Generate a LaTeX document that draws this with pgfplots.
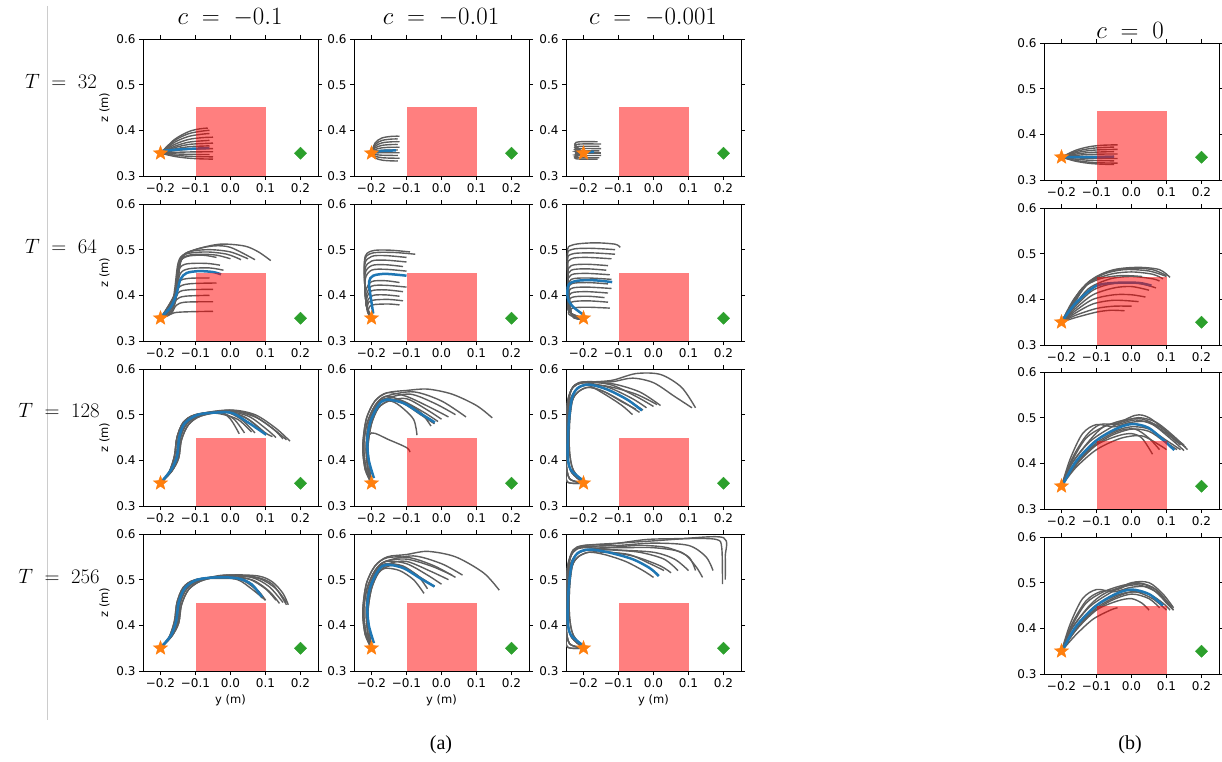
\documentclass[border=0pt]{standalone}
\usepackage{fontspec}
\setmainfont{Liberation Serif}
\newfontfamily\dejavu{DejaVu Sans}
\usepackage{pgfplots}
\pgfplotsset{compat=1.18}
\definecolor{tgray}{HTML}{5E5E5E}
\definecolor{cblue}{HTML}{1F77B4}
\definecolor{corange}{HTML}{FF7F0E}
\definecolor{cgreen}{HTML}{2CA02C}
\pgfdeclareplotmark{fstar}{%
  \pgfpathmoveto{\pgfpointpolar{90}{\pgfplotmarksize}}%
  \pgfpathlineto{\pgfpointpolar{126}{0.42\pgfplotmarksize}}%
  \pgfpathlineto{\pgfpointpolar{162}{\pgfplotmarksize}}%
  \pgfpathlineto{\pgfpointpolar{198}{0.42\pgfplotmarksize}}%
  \pgfpathlineto{\pgfpointpolar{234}{\pgfplotmarksize}}%
  \pgfpathlineto{\pgfpointpolar{270}{0.42\pgfplotmarksize}}%
  \pgfpathlineto{\pgfpointpolar{306}{\pgfplotmarksize}}%
  \pgfpathlineto{\pgfpointpolar{342}{0.42\pgfplotmarksize}}%
  \pgfpathlineto{\pgfpointpolar{18}{\pgfplotmarksize}}%
  \pgfpathlineto{\pgfpointpolar{54}{0.42\pgfplotmarksize}}%
  \pgfpathclose
  \pgfusepathqfillstroke}
\pgfplotsset{
  panel/.style={scale only axis, width=175pt, height=137pt, anchor=north west,
    xmin=-0.25, xmax=0.25, ymin=0.3, ymax=0.6,
    xtick={-0.2,-0.1,0,0.1,0.2}, xticklabels={−0.2,−0.1,0.0,0.1,0.2},
    ytick={0.3,0.4,0.5,0.6}, yticklabels={0.3,0.4,0.5,0.6},
    tick align=outside, major tick length=4pt,
    tick style={black,line width=0.8pt}, axis line style={black,line width=0.8pt},
    ticklabel style={font=\dejavu\fontsize{12}{14}\selectfont},
    label style={font=\dejavu\fontsize{11.5}{14}\selectfont}},
  traj/.style={tgray, line width=1.4pt, smooth, tension=0.5},
  mean/.style={cblue, line width=2.5pt, smooth, tension=0.5},
}
\newcommand{\decor}{%
  \addplot[draw=none, fill=red, fill opacity=0.5] coordinates {(-0.1,0.3)(0.1,0.3)(0.1,0.45)(-0.1,0.45)} -- cycle;
  \addplot[only marks, mark=fstar, mark size=7.5pt, color=corange] coordinates {(-0.2,0.35)};
  \addplot[only marks, mark=square*, mark size=4.3pt, mark options={rotate=45}, color=cgreen] coordinates {(0.2,0.35)};
}
\begin{document}
\begin{tikzpicture}
\useasboundingbox (0pt,0pt) rectangle (1222pt,-762pt);
\draw[black!20, line width=1pt] (47pt,-6pt) -- (47pt,-720pt);
% titles
\node at (230pt,-18pt) {\fontsize{23}{27}\selectfont $c\;=\;-0.1$};
\node at (441pt,-18pt) {\fontsize{23}{27}\selectfont $c\;=\;-0.01$};
\node at (653pt,-18pt) {\fontsize{23}{27}\selectfont $c\;=\;-0.001$};
\node at (1130pt,-30pt) {\fontsize{23}{27}\selectfont $c\;=\;0$};
\node at (61pt,-81pt) {\fontsize{22}{26}\selectfont $T\;=\;32$};
\node at (61pt,-246pt) {\fontsize{22}{26}\selectfont $T\;=\;64$};
\node at (59pt,-410pt) {\fontsize{22}{26}\selectfont $T\;=\;128$};
\node at (59pt,-576pt) {\fontsize{22}{26}\selectfont $T\;=\;256$};
\node at (441pt,-745pt) {\fontsize{20}{24}\selectfont (a)};
\node at (1130pt,-745pt) {\fontsize{20}{24}\selectfont (b)};

% ================= ROW 1 =================
\begin{axis}[panel, at={(143pt,-39pt)}, ylabel={z (m)}]
\addplot[traj] coordinates {(-0.2,0.35)(-0.16,0.380)(-0.12,0.397)(-0.09,0.403)(-0.065,0.405)};
\addplot[traj] coordinates {(-0.2,0.35)(-0.16,0.3775)(-0.12,0.3925)(-0.08,0.3985)(-0.06,0.400)};
\addplot[traj] coordinates {(-0.2,0.35)(-0.16,0.3737)(-0.12,0.3866)(-0.08,0.3917)(-0.06,0.393)};
\addplot[traj] coordinates {(-0.2,0.35)(-0.16,0.369)(-0.12,0.380)(-0.08,0.384)(-0.05,0.385)};
\addplot[traj] coordinates {(-0.2,0.35)(-0.16,0.365)(-0.12,0.374)(-0.08,0.377)(-0.06,0.378)};
\addplot[traj] coordinates {(-0.2,0.35)(-0.16,0.362)(-0.12,0.369)(-0.08,0.371)(-0.05,0.372)};
\addplot[traj] coordinates {(-0.2,0.35)(-0.16,0.359)(-0.12,0.364)(-0.08,0.3655)(-0.06,0.366)};
\addplot[traj] coordinates {(-0.2,0.35)(-0.16,0.3555)(-0.12,0.3585)(-0.08,0.3597)(-0.05,0.36)};
\addplot[traj] coordinates {(-0.2,0.35)(-0.16,0.3517)(-0.12,0.3526)(-0.08,0.353)(-0.05,0.353)};
\addplot[traj] coordinates {(-0.2,0.35)(-0.16,0.3484)(-0.12,0.3475)(-0.08,0.347)(-0.06,0.347)};
\addplot[traj] coordinates {(-0.2,0.35)(-0.16,0.3456)(-0.12,0.3432)(-0.08,0.3422)(-0.05,0.342)};
\addplot[traj] coordinates {(-0.2,0.35)(-0.16,0.3429)(-0.12,0.339)(-0.08,0.3374)(-0.05,0.337)};
\addplot[mean] coordinates {(-0.195,0.355)(-0.15,0.358)(-0.1,0.36)(-0.06,0.361)};
\decor
\end{axis}

\begin{axis}[panel, at={(354pt,-39pt)}]
\addplot[traj] coordinates {(-0.2,0.35)(-0.19,0.3722)(-0.17,0.3833)(-0.14,0.387)(-0.12,0.387)};
\addplot[traj] coordinates {(-0.2,0.35)(-0.19,0.3686)(-0.17,0.3779)(-0.14,0.381)(-0.125,0.381)};
\addplot[traj] coordinates {(-0.2,0.35)(-0.19,0.365)(-0.17,0.3725)(-0.14,0.375)(-0.12,0.375)};
\addplot[traj] coordinates {(-0.2,0.35)(-0.19,0.3614)(-0.17,0.3671)(-0.14,0.369)(-0.125,0.369)};
\addplot[traj] coordinates {(-0.2,0.35)(-0.19,0.3578)(-0.17,0.3617)(-0.14,0.363)(-0.12,0.363)};
\addplot[traj] coordinates {(-0.2,0.35)(-0.19,0.3542)(-0.17,0.3563)(-0.14,0.357)(-0.125,0.357)};
\addplot[traj] coordinates {(-0.2,0.35)(-0.19,0.3506)(-0.17,0.3509)(-0.14,0.351)(-0.12,0.351)};
\addplot[traj] coordinates {(-0.2,0.35)(-0.19,0.347)(-0.17,0.3455)(-0.14,0.345)(-0.125,0.345)};
\addplot[traj] coordinates {(-0.2,0.35)(-0.19,0.3434)(-0.17,0.3401)(-0.14,0.339)(-0.12,0.339)};
\addplot[traj] coordinates {(-0.2,0.35)(-0.19,0.3398)(-0.17,0.3347)(-0.14,0.333)(-0.125,0.333)};
\addplot[mean] coordinates {(-0.2,0.352)(-0.17,0.355)(-0.13,0.356)};
\decor
\end{axis}

\begin{axis}[panel, at={(566pt,-39pt)}]
\addplot[traj] coordinates {(-0.2,0.35)(-0.225,0.37)(-0.21,0.375)(-0.16,0.375)};
\addplot[traj] coordinates {(-0.2,0.35)(-0.225,0.366)(-0.21,0.37)(-0.15,0.37)};
\addplot[traj] coordinates {(-0.2,0.35)(-0.225,0.362)(-0.21,0.365)(-0.155,0.365)};
\addplot[traj] coordinates {(-0.2,0.35)(-0.225,0.358)(-0.21,0.36)(-0.15,0.36)};
\addplot[traj] coordinates {(-0.2,0.35)(-0.225,0.354)(-0.21,0.355)(-0.155,0.355)};
\addplot[traj] coordinates {(-0.2,0.35)(-0.225,0.35)(-0.21,0.35)(-0.15,0.35)};
\addplot[traj] coordinates {(-0.2,0.35)(-0.225,0.346)(-0.21,0.345)(-0.15,0.345)};
\addplot[traj] coordinates {(-0.2,0.35)(-0.225,0.342)(-0.21,0.34)(-0.155,0.34)};
\addplot[traj] coordinates {(-0.2,0.35)(-0.225,0.3396)(-0.21,0.337)(-0.16,0.337)};
\addplot[mean] coordinates {(-0.195,0.352)(-0.17,0.353)};
\decor
\end{axis}

\begin{axis}[panel, at={(1044pt,-43pt)}]
\addplot[traj] coordinates {(-0.2,0.35)(-0.16,0.3649)(-0.12,0.373)(-0.08,0.3762)(-0.04,0.377)};
\addplot[traj] coordinates {(-0.2,0.35)(-0.16,0.3621)(-0.12,0.3687)(-0.08,0.3713)(-0.05,0.372)};
\addplot[traj] coordinates {(-0.2,0.35)(-0.16,0.3594)(-0.12,0.3645)(-0.08,0.3665)(-0.04,0.367)};
\addplot[traj] coordinates {(-0.2,0.35)(-0.16,0.3566)(-0.12,0.3602)(-0.08,0.3616)(-0.05,0.362)};
\addplot[traj] coordinates {(-0.2,0.35)(-0.16,0.3539)(-0.12,0.356)(-0.08,0.3568)(-0.04,0.357)};
\addplot[traj] coordinates {(-0.2,0.35)(-0.16,0.3511)(-0.12,0.3517)(-0.08,0.3519)(-0.05,0.352)};
\addplot[traj] coordinates {(-0.2,0.35)(-0.16,0.3484)(-0.12,0.3475)(-0.08,0.3471)(-0.04,0.347)};
\addplot[traj] coordinates {(-0.2,0.35)(-0.16,0.3456)(-0.12,0.3432)(-0.08,0.3422)(-0.05,0.342)};
\addplot[traj] coordinates {(-0.2,0.35)(-0.16,0.3429)(-0.12,0.339)(-0.08,0.3374)(-0.04,0.337)};
\addplot[traj] coordinates {(-0.2,0.35)(-0.16,0.3412)(-0.12,0.3364)(-0.08,0.3345)(-0.05,0.334)};
\addplot[mean] coordinates {(-0.2,0.35)(-0.1,0.35)(-0.05,0.351)};
\decor
\end{axis}

% ================= ROW 2 =================
\begin{axis}[panel, at={(143pt,-204pt)}, ylabel={z (m)}]
\addplot[traj] coordinates {(-0.2,0.35)(-0.18,0.355)(-0.16,0.362)(-0.12,0.364)(-0.05,0.365)};
\addplot[traj] coordinates {(-0.2,0.35)(-0.17,0.36)(-0.155,0.378)(-0.13,0.385)(-0.05,0.386)};
\addplot[traj] coordinates {(-0.2,0.35)(-0.17,0.362)(-0.155,0.39)(-0.13,0.398)(-0.06,0.400)};
\addplot[traj] coordinates {(-0.2,0.35)(-0.165,0.37)(-0.15,0.405)(-0.12,0.412)(-0.05,0.413)};
\addplot[traj] coordinates {(-0.2,0.35)(-0.165,0.375)(-0.15,0.415)(-0.12,0.425)(-0.04,0.427)};
\addplot[traj] coordinates {(-0.2,0.35)(-0.16,0.38)(-0.148,0.428)(-0.12,0.437)(-0.06,0.438)};
\addplot[traj] coordinates {(-0.2,0.35)(-0.16,0.39)(-0.145,0.445)(-0.12,0.458)(-0.06,0.46)(-0.02,0.455)};
\addplot[traj] coordinates {(-0.2,0.35)(-0.16,0.385)(-0.15,0.45)(-0.13,0.468)(-0.07,0.47)(-0.03,0.466)};
\addplot[traj] coordinates {(-0.2,0.35)(-0.16,0.39)(-0.15,0.46)(-0.13,0.485)(-0.09,0.49)(-0.04,0.488)(0,0.48)};
\addplot[traj] coordinates {(-0.2,0.35)(-0.165,0.39)(-0.15,0.47)(-0.13,0.49)(-0.07,0.495)(-0.01,0.49)(0.03,0.478)};
\addplot[traj] coordinates {(-0.2,0.35)(-0.16,0.40)(-0.145,0.475)(-0.12,0.495)(-0.06,0.50)(0,0.495)(0.05,0.48)};
\addplot[traj] coordinates {(-0.2,0.35)(-0.16,0.40)(-0.14,0.48)(-0.11,0.498)(-0.05,0.508)(0,0.505)(0.07,0.478)};
\addplot[traj] coordinates {(-0.2,0.35)(-0.155,0.41)(-0.14,0.48)(-0.1,0.50)(-0.03,0.512)(0.04,0.508)(0.08,0.495)(0.115,0.476)};
\addplot[traj] coordinates {(-0.2,0.35)(-0.16,0.40)(-0.145,0.47)(-0.125,0.485)(-0.08,0.488)(-0.04,0.483)};
\addplot[mean] coordinates {(-0.195,0.355)(-0.17,0.375)(-0.155,0.401)(-0.143,0.435)(-0.125,0.449)(-0.09,0.453)(-0.05,0.451)(-0.027,0.446)};
\decor
\end{axis}

\begin{axis}[panel, at={(354pt,-204pt)}]
\addplot[traj] coordinates {(-0.2,0.35)(-0.21,0.362)(-0.205,0.376)(-0.19,0.38)(-0.15,0.381)(-0.12,0.379)};
\addplot[traj] coordinates {(-0.2,0.35)(-0.212,0.365)(-0.208,0.385)(-0.19,0.39)(-0.15,0.391)(-0.11,0.388)};
\addplot[traj] coordinates {(-0.2,0.35)(-0.212,0.37)(-0.21,0.39)(-0.195,0.40)(-0.16,0.401)(-0.12,0.398)};
\addplot[traj] coordinates {(-0.2,0.35)(-0.213,0.37)(-0.213,0.395)(-0.2,0.41)(-0.16,0.412)(-0.11,0.408)};
\addplot[traj] coordinates {(-0.2,0.35)(-0.214,0.375)(-0.215,0.40)(-0.2,0.42)(-0.16,0.422)(-0.1,0.418)};
\addplot[traj] coordinates {(-0.2,0.35)(-0.214,0.38)(-0.216,0.41)(-0.2,0.43)(-0.16,0.432)(-0.12,0.428)};
\addplot[traj] coordinates {(-0.2,0.35)(-0.215,0.38)(-0.218,0.435)(-0.2,0.455)(-0.16,0.457)(-0.1,0.453)};
\addplot[traj] coordinates {(-0.2,0.35)(-0.215,0.38)(-0.219,0.445)(-0.2,0.465)(-0.16,0.467)(-0.11,0.463)};
\addplot[traj] coordinates {(-0.2,0.35)(-0.215,0.38)(-0.219,0.455)(-0.2,0.475)(-0.16,0.477)(-0.1,0.473)};
\addplot[traj] coordinates {(-0.2,0.35)(-0.215,0.38)(-0.22,0.465)(-0.2,0.485)(-0.16,0.487)(-0.1,0.483)};
\addplot[traj] coordinates {(-0.2,0.35)(-0.215,0.38)(-0.22,0.472)(-0.2,0.492)(-0.14,0.494)(-0.075,0.49)};
\addplot[traj] coordinates {(-0.2,0.35)(-0.215,0.38)(-0.22,0.477)(-0.2,0.497)(-0.15,0.499)(-0.09,0.495)};
\addplot[mean] coordinates {(-0.195,0.36)(-0.203,0.40)(-0.207,0.43)(-0.195,0.443)(-0.16,0.447)(-0.1,0.443)};
\decor
\end{axis}

\begin{axis}[panel, at={(566pt,-204pt)}]
\addplot[traj] coordinates {(-0.2,0.35)(-0.235,0.355)(-0.243,0.362)(-0.232,0.372)(-0.19,0.374)(-0.125,0.372)};
\addplot[traj] coordinates {(-0.2,0.35)(-0.235,0.36)(-0.245,0.37)(-0.235,0.385)(-0.19,0.388)(-0.13,0.385)};
\addplot[traj] coordinates {(-0.2,0.35)(-0.235,0.36)(-0.245,0.375)(-0.235,0.395)(-0.19,0.398)(-0.14,0.395)};
\addplot[traj] coordinates {(-0.2,0.35)(-0.235,0.36)(-0.245,0.385)(-0.235,0.405)(-0.19,0.408)(-0.13,0.405)};
\addplot[traj] coordinates {(-0.2,0.35)(-0.235,0.36)(-0.245,0.395)(-0.235,0.415)(-0.19,0.418)(-0.12,0.415)};
\addplot[traj] coordinates {(-0.2,0.35)(-0.235,0.36)(-0.245,0.405)(-0.235,0.425)(-0.19,0.428)(-0.13,0.425)};
\addplot[traj] coordinates {(-0.2,0.35)(-0.235,0.36)(-0.245,0.415)(-0.235,0.435)(-0.19,0.438)(-0.12,0.435)};
\addplot[traj] coordinates {(-0.2,0.35)(-0.235,0.36)(-0.245,0.425)(-0.235,0.445)(-0.19,0.448)(-0.125,0.445)};
\addplot[traj] coordinates {(-0.2,0.35)(-0.235,0.36)(-0.245,0.435)(-0.235,0.455)(-0.19,0.458)(-0.135,0.455)};
\addplot[traj] coordinates {(-0.2,0.35)(-0.235,0.36)(-0.245,0.445)(-0.235,0.465)(-0.19,0.468)(-0.13,0.465)};
\addplot[traj] coordinates {(-0.2,0.35)(-0.235,0.36)(-0.246,0.46)(-0.235,0.48)(-0.19,0.483)(-0.12,0.48)};
\addplot[traj] coordinates {(-0.2,0.35)(-0.235,0.36)(-0.246,0.47)(-0.235,0.49)(-0.18,0.493)(-0.11,0.49)};
\addplot[traj] coordinates {(-0.2,0.35)(-0.235,0.36)(-0.246,0.48)(-0.235,0.50)(-0.18,0.503)(-0.11,0.50)};
\addplot[traj] coordinates {(-0.2,0.35)(-0.235,0.36)(-0.246,0.49)(-0.232,0.51)(-0.17,0.515)(-0.11,0.512)(-0.095,0.505)};
\addplot[mean] coordinates {(-0.203,0.359)(-0.23,0.375)(-0.245,0.394)(-0.243,0.423)(-0.217,0.432)(-0.17,0.433)(-0.118,0.429)};
\decor
\end{axis}

\begin{axis}[panel, at={(1044pt,-208pt)}]
\addplot[traj] coordinates {(-0.2,0.35)(-0.16,0.40)(-0.11,0.445)(-0.05,0.465)(0.02,0.47)(0.08,0.465)(0.11,0.448)};
\addplot[traj] coordinates {(-0.2,0.35)(-0.16,0.405)(-0.12,0.44)(-0.06,0.462)(0,0.468)(0.06,0.465)(0.1,0.452)};
\addplot[traj] coordinates {(-0.2,0.35)(-0.165,0.40)(-0.12,0.437)(-0.06,0.455)(0,0.46)(0.06,0.455)(0.09,0.445)};
\addplot[traj] coordinates {(-0.2,0.35)(-0.16,0.39)(-0.12,0.425)(-0.06,0.445)(0,0.45)(0.06,0.445)(0.08,0.44)};
\addplot[traj] coordinates {(-0.2,0.35)(-0.16,0.385)(-0.11,0.42)(-0.05,0.435)(0.02,0.435)(0.07,0.425)};
\addplot[traj] coordinates {(-0.2,0.35)(-0.16,0.38)(-0.11,0.41)(-0.05,0.425)(0,0.428)(0.05,0.42)};
\addplot[traj] coordinates {(-0.2,0.35)(-0.16,0.375)(-0.11,0.40)(-0.05,0.41)(0,0.41)(0.04,0.405)};
\addplot[traj] coordinates {(-0.2,0.35)(-0.16,0.37)(-0.11,0.39)(-0.05,0.398)(0.02,0.395)};
\addplot[traj] coordinates {(-0.2,0.35)(-0.16,0.365)(-0.1,0.38)(-0.05,0.385)(0,0.385)};
\addplot[traj] coordinates {(-0.2,0.35)(-0.16,0.36)(-0.1,0.372)(-0.06,0.376)(-0.02,0.375)};
\addplot[traj] coordinates {(-0.2,0.35)(-0.165,0.39)(-0.13,0.43)(-0.08,0.455)(-0.02,0.465)(0.05,0.462)(0.1,0.45)};
\addplot[traj] coordinates {(-0.2,0.35)(-0.17,0.39)(-0.14,0.425)(-0.09,0.445)(-0.03,0.452)(0.03,0.45)};
\addplot[mean] coordinates {(-0.195,0.356)(-0.158,0.393)(-0.102,0.429)(-0.046,0.436)(0.02,0.436)(0.057,0.43)};
\decor
\end{axis}

% ================= ROW 3 =================
\begin{axis}[panel, at={(143pt,-369pt)}, ylabel={z (m)}]
\addplot[traj] coordinates {(-0.2,0.35)(-0.175,0.375)(-0.16,0.41)(-0.153,0.45)(-0.135,0.483)(-0.1,0.5)(-0.03,0.505)(0,0.49)(0.025,0.458)};
\addplot[traj] coordinates {(-0.2,0.35)(-0.17,0.378)(-0.155,0.41)(-0.148,0.45)(-0.13,0.482)(-0.095,0.5)(-0.03,0.505)(0.01,0.49)(0.04,0.46)};
\addplot[traj] coordinates {(-0.2,0.35)(-0.165,0.38)(-0.15,0.41)(-0.143,0.45)(-0.125,0.48)(-0.09,0.498)(-0.02,0.507)(0.03,0.49)(0.07,0.46)};
\addplot[traj] coordinates {(-0.2,0.35)(-0.168,0.376)(-0.148,0.405)(-0.14,0.445)(-0.12,0.478)(-0.085,0.497)(-0.02,0.507)(0.04,0.495)(0.09,0.465)};
\addplot[traj] coordinates {(-0.2,0.35)(-0.175,0.375)(-0.16,0.41)(-0.153,0.45)(-0.135,0.483)(-0.1,0.5)(-0.02,0.508)(0.05,0.497)(0.1,0.47)(0.13,0.45)};
\addplot[traj] coordinates {(-0.2,0.35)(-0.17,0.378)(-0.155,0.41)(-0.148,0.45)(-0.13,0.482)(-0.095,0.5)(-0.01,0.51)(0.06,0.5)(0.12,0.47)(0.15,0.447)};
\addplot[traj] coordinates {(-0.2,0.35)(-0.165,0.38)(-0.15,0.41)(-0.143,0.45)(-0.125,0.48)(-0.09,0.498)(0,0.51)(0.07,0.5)(0.13,0.47)(0.17,0.442)};
\addplot[traj] coordinates {(-0.2,0.35)(-0.168,0.376)(-0.148,0.405)(-0.14,0.445)(-0.12,0.478)(-0.085,0.497)(0,0.508)(0.07,0.495)(0.12,0.47)(0.16,0.445)};
\addplot[traj] coordinates {(-0.2,0.35)(-0.175,0.375)(-0.16,0.41)(-0.153,0.45)(-0.135,0.483)(-0.1,0.5)(-0.01,0.506)(0.05,0.49)(0.1,0.46)(0.12,0.452)};
\addplot[traj] coordinates {(-0.2,0.35)(-0.165,0.38)(-0.15,0.41)(-0.143,0.45)(-0.125,0.48)(-0.09,0.498)(-0.04,0.503)(0.02,0.49)(0.06,0.462)};
\addplot[mean] coordinates {(-0.193,0.357)(-0.17,0.379)(-0.153,0.408)(-0.146,0.452)(-0.131,0.481)(-0.093,0.5)(-0.031,0.505)(0.007,0.503)(0.054,0.481)(0.102,0.456)};
\decor
\end{axis}

\begin{axis}[panel, at={(354pt,-369pt)}]
\addplot[traj] coordinates {(-0.2,0.35)(-0.21,0.38)(-0.215,0.43)(-0.208,0.48)(-0.185,0.52)(-0.16,0.535)(-0.11,0.525)(-0.06,0.5)(-0.02,0.48)};
\addplot[traj] coordinates {(-0.2,0.35)(-0.215,0.38)(-0.222,0.43)(-0.213,0.48)(-0.19,0.52)(-0.16,0.54)(-0.11,0.53)(-0.05,0.505)(-0.01,0.485)};
\addplot[traj] coordinates {(-0.2,0.35)(-0.205,0.38)(-0.21,0.43)(-0.2,0.48)(-0.18,0.515)(-0.15,0.53)(-0.1,0.535)(-0.04,0.51)(0,0.49)};
\addplot[traj] coordinates {(-0.2,0.35)(-0.218,0.38)(-0.225,0.43)(-0.215,0.49)(-0.19,0.53)(-0.155,0.548)(-0.1,0.54)(-0.03,0.515)(0.02,0.495)};
\addplot[traj] coordinates {(-0.2,0.35)(-0.21,0.38)(-0.215,0.43)(-0.208,0.48)(-0.185,0.52)(-0.16,0.535)(-0.09,0.545)(-0.02,0.525)(0.04,0.5)};
\addplot[traj] coordinates {(-0.2,0.35)(-0.215,0.38)(-0.222,0.43)(-0.213,0.48)(-0.19,0.52)(-0.16,0.54)(-0.08,0.55)(0,0.53)(0.07,0.495)};
\addplot[traj] coordinates {(-0.2,0.35)(-0.218,0.38)(-0.225,0.43)(-0.215,0.49)(-0.19,0.53)(-0.155,0.548)(-0.1,0.553)(-0.04,0.556)(0.03,0.545)(0.1,0.52)(0.145,0.493)};
\addplot[traj] coordinates {(-0.2,0.35)(-0.205,0.38)(-0.21,0.43)(-0.2,0.48)(-0.18,0.515)(-0.15,0.53)(-0.12,0.52)(-0.08,0.49)(-0.07,0.455)};
\addplot[traj] coordinates {(-0.2,0.35)(-0.21,0.38)(-0.215,0.43)(-0.208,0.48)(-0.185,0.52)(-0.16,0.535)(-0.11,0.528)(-0.06,0.505)(-0.03,0.475)};
\addplot[traj] coordinates {(-0.2,0.35)(-0.21,0.38)(-0.215,0.43)(-0.2,0.46)(-0.15,0.445)(-0.1,0.428)(-0.09,0.418)};
\addplot[mean] coordinates {(-0.193,0.361)(-0.208,0.401)(-0.212,0.445)(-0.203,0.485)(-0.179,0.522)(-0.156,0.533)(-0.108,0.525)(-0.061,0.503)(-0.019,0.483)};
\decor
\end{axis}

\begin{axis}[panel, at={(566pt,-369pt)}]
\addplot[traj] coordinates {(-0.2,0.35)(-0.23,0.38)(-0.24,0.42)(-0.24,0.48)(-0.232,0.53)(-0.215,0.55)(-0.185,0.56)(-0.14,0.55)(-0.08,0.525)(-0.04,0.505)};
\addplot[traj] coordinates {(-0.2,0.35)(-0.235,0.375)(-0.245,0.41)(-0.245,0.47)(-0.238,0.53)(-0.22,0.555)(-0.19,0.565)(-0.13,0.555)(-0.07,0.53)(-0.03,0.51)};
\addplot[traj] coordinates {(-0.2,0.35)(-0.24,0.36)(-0.25,0.40)(-0.25,0.47)(-0.245,0.53)(-0.23,0.56)(-0.2,0.57)(-0.13,0.56)(-0.06,0.535)(-0.02,0.515)};
\addplot[traj] coordinates {(-0.2,0.35)(-0.245,0.352)(-0.25,0.38)(-0.248,0.46)(-0.24,0.54)(-0.225,0.565)(-0.195,0.572)(-0.12,0.565)(-0.05,0.54)(0,0.518)};
\addplot[traj] coordinates {(-0.2,0.35)(-0.24,0.36)(-0.25,0.40)(-0.25,0.47)(-0.245,0.53)(-0.23,0.56)(-0.2,0.57)(-0.12,0.568)(-0.04,0.55)(0.02,0.52)};
\addplot[traj] coordinates {(-0.2,0.35)(-0.245,0.352)(-0.25,0.38)(-0.248,0.46)(-0.24,0.54)(-0.225,0.565)(-0.195,0.572)(-0.12,0.572)(-0.06,0.58)(0,0.57)(0.06,0.54)(0.11,0.515)};
\addplot[traj] coordinates {(-0.2,0.35)(-0.24,0.36)(-0.25,0.40)(-0.25,0.47)(-0.245,0.53)(-0.23,0.56)(-0.2,0.57)(-0.12,0.575)(-0.05,0.59)(0.02,0.588)(0.08,0.56)(0.12,0.515)};
\addplot[traj] coordinates {(-0.2,0.35)(-0.235,0.375)(-0.245,0.41)(-0.245,0.47)(-0.238,0.53)(-0.22,0.555)(-0.19,0.565)(-0.14,0.545)(-0.09,0.52)(-0.06,0.5)};
\addplot[traj] coordinates {(-0.2,0.35)(-0.23,0.38)(-0.24,0.42)(-0.24,0.48)(-0.232,0.53)(-0.215,0.55)(-0.185,0.56)(-0.14,0.55)(-0.09,0.528)(-0.05,0.512)};
\addplot[traj] coordinates {(-0.2,0.35)(-0.235,0.375)(-0.245,0.41)(-0.245,0.47)(-0.238,0.53)(-0.22,0.555)(-0.19,0.565)(-0.13,0.562)(-0.05,0.545)(0.01,0.522)};
\addplot[mean] coordinates {(-0.203,0.357)(-0.236,0.379)(-0.245,0.408)(-0.243,0.474)(-0.234,0.533)(-0.217,0.558)(-0.184,0.566)(-0.132,0.555)(-0.075,0.533)(-0.033,0.509)};
\decor
\end{axis}

\begin{axis}[panel, at={(1044pt,-372pt)}]
\addplot[traj] coordinates {(-0.2,0.35)(-0.17,0.4)(-0.12,0.45)(-0.08,0.48)(-0.03,0.49)(0.02,0.5)(0.07,0.49)(0.12,0.46)(0.16,0.43)};
\addplot[traj] coordinates {(-0.2,0.35)(-0.17,0.41)(-0.13,0.46)(-0.09,0.485)(-0.04,0.485)(0.01,0.495)(0.06,0.485)(0.11,0.455)(0.15,0.428)};
\addplot[traj] coordinates {(-0.2,0.35)(-0.16,0.4)(-0.11,0.445)(-0.05,0.47)(0,0.48)(0.05,0.475)(0.1,0.45)(0.14,0.43)};
\addplot[traj] coordinates {(-0.2,0.35)(-0.165,0.39)(-0.12,0.43)(-0.06,0.46)(0,0.475)(0.05,0.47)(0.09,0.45)(0.13,0.43)};
\addplot[traj] coordinates {(-0.2,0.35)(-0.17,0.4)(-0.12,0.447)(-0.06,0.478)(0.01,0.505)(0.05,0.5)(0.1,0.47)(0.15,0.44)};
\addplot[traj] coordinates {(-0.2,0.35)(-0.16,0.395)(-0.1,0.44)(-0.04,0.46)(0,0.465)(0.03,0.455)(0.06,0.42)};
\addplot[traj] coordinates {(-0.2,0.35)(-0.16,0.4)(-0.1,0.445)(-0.04,0.47)(0.01,0.475)(0.05,0.455)(0.08,0.43)};
\addplot[traj] coordinates {(-0.2,0.35)(-0.17,0.405)(-0.13,0.455)(-0.08,0.48)(-0.02,0.495)(0.03,0.497)(0.08,0.48)(0.12,0.455)(0.155,0.435)};
\addplot[traj] coordinates {(-0.2,0.35)(-0.16,0.39)(-0.1,0.43)(-0.03,0.455)(0.03,0.46)(0.08,0.44)(0.1,0.43)};
\addplot[traj] coordinates {(-0.2,0.35)(-0.175,0.41)(-0.14,0.465)(-0.1,0.485)(-0.05,0.48)(0,0.49)(0.05,0.49)(0.1,0.465)(0.14,0.44)};
\addplot[mean] coordinates {(-0.195,0.355)(-0.158,0.405)(-0.102,0.449)(-0.046,0.475)(0.001,0.486)(0.048,0.478)(0.094,0.449)(0.122,0.429)};
\decor
\end{axis}

% ================= ROW 4 =================
\begin{axis}[panel, at={(143pt,-534pt)}, ylabel={z (m)}, xlabel={y (m)}]
\addplot[traj] coordinates {(-0.2,0.35)(-0.175,0.375)(-0.16,0.41)(-0.153,0.45)(-0.135,0.483)(-0.1,0.5)(-0.03,0.505)(0.04,0.5)(0.08,0.475)(0.1,0.455)};
\addplot[traj] coordinates {(-0.2,0.35)(-0.17,0.378)(-0.155,0.41)(-0.148,0.45)(-0.13,0.482)(-0.095,0.5)(-0.02,0.507)(0.05,0.502)(0.1,0.48)(0.13,0.455)};
\addplot[traj] coordinates {(-0.2,0.35)(-0.165,0.38)(-0.15,0.41)(-0.143,0.45)(-0.125,0.48)(-0.09,0.498)(-0.02,0.51)(0.06,0.505)(0.11,0.485)(0.15,0.45)};
\addplot[traj] coordinates {(-0.2,0.35)(-0.168,0.376)(-0.148,0.405)(-0.14,0.445)(-0.12,0.478)(-0.085,0.497)(-0.01,0.51)(0.07,0.506)(0.12,0.49)(0.16,0.445)};
\addplot[traj] coordinates {(-0.2,0.35)(-0.175,0.375)(-0.16,0.41)(-0.153,0.45)(-0.135,0.483)(-0.1,0.5)(0,0.508)(0.08,0.503)(0.13,0.48)(0.16,0.45)};
\addplot[traj] coordinates {(-0.2,0.35)(-0.17,0.378)(-0.155,0.41)(-0.148,0.45)(-0.13,0.482)(-0.095,0.5)(-0.03,0.503)(0.03,0.5)(0.07,0.48)(0.09,0.46)};
\addplot[traj] coordinates {(-0.2,0.35)(-0.165,0.38)(-0.15,0.41)(-0.143,0.45)(-0.125,0.48)(-0.09,0.498)(-0.02,0.506)(0.06,0.5)(0.11,0.475)(0.14,0.448)};
\addplot[traj] coordinates {(-0.2,0.35)(-0.168,0.376)(-0.148,0.405)(-0.14,0.445)(-0.12,0.478)(-0.085,0.497)(-0.04,0.505)(0.02,0.5)(0.06,0.48)(0.1,0.455)};
\addplot[traj] coordinates {(-0.2,0.35)(-0.17,0.378)(-0.155,0.41)(-0.148,0.45)(-0.13,0.482)(-0.095,0.5)(0,0.51)(0.08,0.508)(0.12,0.495)(0.15,0.47)(0.165,0.445)};
\addplot[mean] coordinates {(-0.193,0.357)(-0.17,0.378)(-0.155,0.41)(-0.148,0.45)(-0.13,0.482)(-0.095,0.5)(-0.04,0.505)(0.02,0.503)(0.06,0.49)(0.09,0.462)};
\decor
\end{axis}

\begin{axis}[panel, at={(354pt,-534pt)}, xlabel={y (m)}]
\addplot[traj] coordinates {(-0.2,0.35)(-0.21,0.38)(-0.215,0.43)(-0.208,0.48)(-0.185,0.52)(-0.16,0.535)(-0.11,0.53)(-0.06,0.505)(-0.02,0.485)};
\addplot[traj] coordinates {(-0.2,0.35)(-0.215,0.38)(-0.222,0.43)(-0.213,0.48)(-0.19,0.52)(-0.16,0.54)(-0.1,0.535)(-0.04,0.51)(0,0.49)};
\addplot[traj] coordinates {(-0.2,0.35)(-0.205,0.38)(-0.21,0.43)(-0.2,0.48)(-0.18,0.515)(-0.15,0.535)(-0.1,0.54)(-0.03,0.518)(0.02,0.5)};
\addplot[traj] coordinates {(-0.2,0.35)(-0.218,0.38)(-0.225,0.43)(-0.215,0.49)(-0.19,0.53)(-0.155,0.548)(-0.09,0.548)(-0.02,0.53)(0.04,0.505)};
\addplot[traj] coordinates {(-0.2,0.35)(-0.21,0.38)(-0.215,0.43)(-0.208,0.48)(-0.185,0.52)(-0.16,0.54)(-0.08,0.552)(0,0.535)(0.06,0.51)};
\addplot[traj] coordinates {(-0.2,0.35)(-0.218,0.38)(-0.225,0.43)(-0.215,0.49)(-0.19,0.53)(-0.155,0.55)(-0.1,0.555)(-0.04,0.562)(0.04,0.55)(0.12,0.515)(0.165,0.477)};
\addplot[traj] coordinates {(-0.2,0.35)(-0.205,0.38)(-0.21,0.43)(-0.2,0.48)(-0.18,0.515)(-0.15,0.53)(-0.12,0.53)(-0.07,0.51)(-0.04,0.48)};
\addplot[traj] coordinates {(-0.2,0.35)(-0.215,0.38)(-0.222,0.43)(-0.213,0.48)(-0.19,0.52)(-0.16,0.54)(-0.1,0.545)(-0.03,0.53)(0.03,0.51)};
\addplot[traj] coordinates {(-0.2,0.35)(-0.21,0.38)(-0.215,0.43)(-0.208,0.48)(-0.185,0.515)(-0.16,0.525)(-0.12,0.52)(-0.08,0.5)(-0.05,0.47)};
\addplot[mean] coordinates {(-0.193,0.361)(-0.208,0.401)(-0.212,0.445)(-0.203,0.485)(-0.179,0.522)(-0.156,0.533)(-0.108,0.525)(-0.061,0.503)(-0.02,0.485)};
\decor
\end{axis}

\begin{axis}[panel, at={(566pt,-534pt)}, xlabel={y (m)}]
\addplot[traj] coordinates {(-0.2,0.35)(-0.23,0.38)(-0.24,0.42)(-0.24,0.48)(-0.232,0.53)(-0.215,0.55)(-0.185,0.56)(-0.14,0.555)(-0.08,0.54)(-0.03,0.52)(0,0.505)};
\addplot[traj] coordinates {(-0.2,0.35)(-0.235,0.375)(-0.245,0.41)(-0.245,0.47)(-0.238,0.53)(-0.22,0.555)(-0.19,0.565)(-0.12,0.56)(-0.05,0.55)(0.02,0.53)(0.05,0.515)};
\addplot[traj] coordinates {(-0.2,0.35)(-0.24,0.36)(-0.25,0.40)(-0.25,0.47)(-0.245,0.53)(-0.23,0.56)(-0.2,0.57)(-0.1,0.565)(0,0.56)(0.06,0.545)(0.1,0.52)};
\addplot[traj] coordinates {(-0.2,0.35)(-0.245,0.352)(-0.25,0.38)(-0.248,0.46)(-0.24,0.54)(-0.225,0.565)(-0.195,0.572)(-0.1,0.57)(0,0.57)(0.08,0.56)(0.12,0.53)(0.14,0.505)};
\addplot[traj] coordinates {(-0.2,0.35)(-0.24,0.36)(-0.25,0.40)(-0.25,0.47)(-0.245,0.53)(-0.23,0.56)(-0.2,0.572)(-0.1,0.575)(0,0.58)(0.1,0.575)(0.15,0.55)(0.17,0.52)};
\addplot[traj] coordinates {(-0.2,0.35)(-0.245,0.352)(-0.25,0.38)(-0.248,0.46)(-0.24,0.54)(-0.225,0.565)(-0.195,0.575)(-0.1,0.58)(0,0.585)(0.1,0.59)(0.18,0.588)(0.195,0.57)(0.197,0.49)};
\addplot[traj] coordinates {(-0.2,0.35)(-0.24,0.36)(-0.25,0.40)(-0.25,0.47)(-0.245,0.53)(-0.23,0.565)(-0.2,0.575)(-0.12,0.578)(-0.02,0.588)(0.08,0.59)(0.2,0.592)(0.205,0.55)(0.205,0.5)};
\addplot[traj] coordinates {(-0.2,0.35)(-0.235,0.375)(-0.245,0.41)(-0.245,0.47)(-0.238,0.53)(-0.22,0.555)(-0.19,0.565)(-0.13,0.57)(-0.04,0.575)(0.04,0.57)(0.1,0.55)(0.12,0.52)};
\addplot[traj] coordinates {(-0.2,0.35)(-0.23,0.38)(-0.24,0.42)(-0.24,0.48)(-0.232,0.53)(-0.215,0.55)(-0.185,0.56)(-0.14,0.56)(-0.07,0.555)(-0.01,0.535)(0.03,0.52)};
\addplot[traj] coordinates {(-0.2,0.35)(-0.235,0.375)(-0.245,0.41)(-0.245,0.47)(-0.238,0.53)(-0.22,0.555)(-0.19,0.565)(-0.12,0.565)(-0.04,0.56)(0.03,0.545)(0.07,0.52)};
\addplot[mean] coordinates {(-0.203,0.357)(-0.236,0.379)(-0.245,0.408)(-0.243,0.474)(-0.234,0.533)(-0.217,0.558)(-0.184,0.566)(-0.13,0.56)(-0.06,0.545)(-0.01,0.525)(0.015,0.508)};
\decor
\end{axis}

\begin{axis}[panel, at={(1044pt,-537pt)}]
\addplot[traj] coordinates {(-0.2,0.35)(-0.17,0.4)(-0.12,0.45)(-0.08,0.475)(-0.03,0.49)(0.02,0.495)(0.07,0.48)(0.1,0.455)(0.12,0.44)};
\addplot[traj] coordinates {(-0.2,0.35)(-0.17,0.41)(-0.13,0.46)(-0.09,0.48)(-0.04,0.485)(0.01,0.5)(0.06,0.49)(0.1,0.46)(0.115,0.445)};
\addplot[traj] coordinates {(-0.2,0.35)(-0.16,0.4)(-0.11,0.445)(-0.05,0.47)(0,0.48)(0.05,0.475)(0.09,0.455)(0.11,0.44)};
\addplot[traj] coordinates {(-0.2,0.35)(-0.165,0.39)(-0.12,0.43)(-0.06,0.46)(0,0.475)(0.05,0.465)(0.08,0.445)};
\addplot[traj] coordinates {(-0.2,0.35)(-0.17,0.4)(-0.12,0.447)(-0.06,0.478)(0,0.5)(0.05,0.5)(0.09,0.475)(0.12,0.445)};
\addplot[traj] coordinates {(-0.2,0.35)(-0.16,0.395)(-0.1,0.44)(-0.04,0.46)(0,0.465)(0.03,0.455)(0.05,0.44)};
\addplot[traj] coordinates {(-0.2,0.35)(-0.16,0.4)(-0.1,0.445)(-0.04,0.47)(0.01,0.48)(0.06,0.465)(0.1,0.44)};
\addplot[traj] coordinates {(-0.2,0.35)(-0.17,0.405)(-0.13,0.455)(-0.08,0.48)(-0.02,0.495)(0.03,0.497)(0.07,0.485)(0.1,0.46)(0.12,0.44)};
\addplot[traj] coordinates {(-0.2,0.35)(-0.16,0.385)(-0.11,0.42)(-0.06,0.44)(-0.04,0.445)};
\addplot[traj] coordinates {(-0.2,0.35)(-0.175,0.41)(-0.14,0.465)(-0.1,0.485)(-0.05,0.48)(0,0.49)(0.05,0.49)(0.09,0.465)(0.11,0.45)};
\addplot[mean] coordinates {(-0.195,0.355)(-0.158,0.405)(-0.102,0.449)(-0.046,0.475)(0,0.485)(0.05,0.475)(0.09,0.45)};
\decor
\end{axis}
\end{tikzpicture}
\end{document}
